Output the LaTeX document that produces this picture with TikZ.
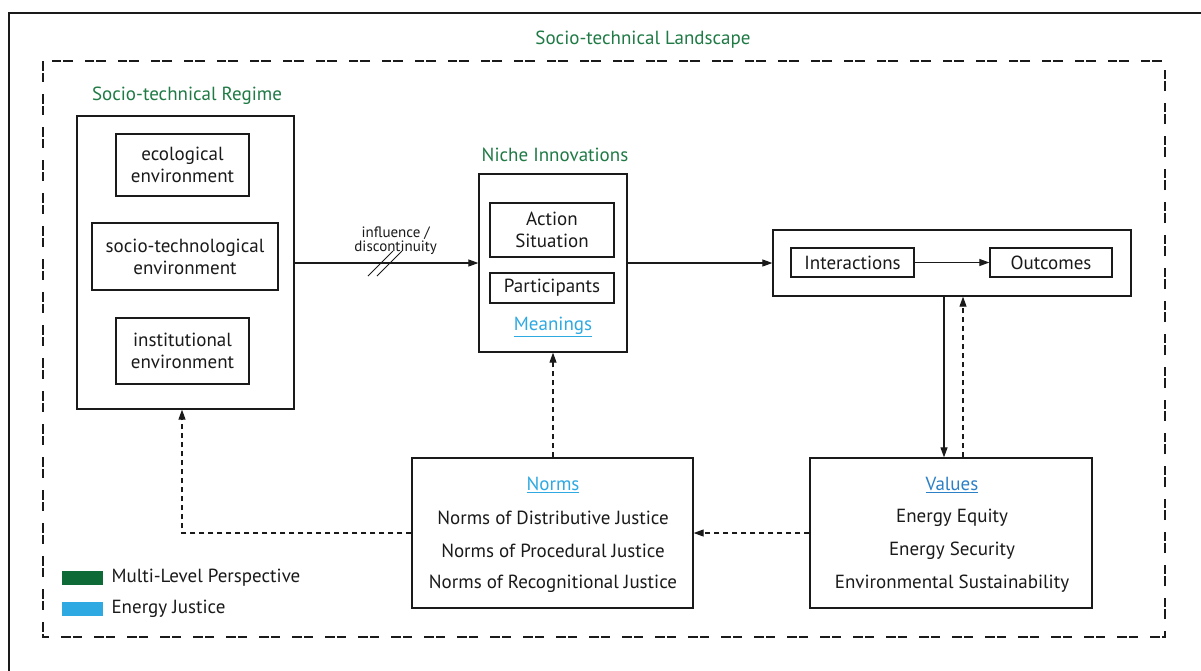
\documentclass[tikz,border=0pt]{standalone}
\usepackage{fontspec}
\setmainfont{PT Sans}
\usetikzlibrary{arrows.meta,positioning,calc}
\definecolor{mlpgreen}{HTML}{0E6B38}
\definecolor{mlptext}{HTML}{1F7A45}
\definecolor{ejblue}{HTML}{2EA9E1}
\definecolor{ejdark}{HTML}{2C80C6}
\definecolor{ink}{HTML}{1A1A1A}
\tikzset{
  box/.style={draw=ink, line width=1.3pt, inner sep=0pt},
  label/.style={text=ink, font=\fontsize{19}{22}\selectfont, align=center},
  head/.style={text=mlptext, font=\fontsize{19}{22}\selectfont},
  flow/.style={draw=ink, line width=1.1pt, -{Triangle[length=10pt,width=7pt]}},
  feedback/.style={flow, dash pattern=on 5pt off 4pt},
  landscape/.style={draw=ink, line width=1.5pt, dash pattern=on 10pt off 2pt on 9pt off 12pt},
  ejlink/.style={font=\fontsize{19}{22}\selectfont}
}
\newcommand{\ulink}[2]{\textcolor{#1}{\underline{#2}}}
\begin{document}
\begin{tikzpicture}[x=1pt,y=-1pt]
\useasboundingbox (0,0) rectangle (1201,670);
\fill[white] (0,0) rectangle (1201,670);
% outer frame and landscape boundary
\draw[ink, line width=1.8pt] (1215,13) -- (9,13) -- (9,685);
\draw[landscape] (43,61) rectangle (1165,637);
\node[head] (landscapeT) at (643,40) {Socio-technical Landscape};

% regime
\node[head] (regimeT) at (187,96) {Socio-technical Regime};
\node[box, minimum width=217pt, minimum height=293pt] (regime) at (185.5,262.5) {};
\node[box, label, minimum width=133pt, minimum height=62pt] (eco) at (182.5,165) {ecological\\environment};
\node[box, label, minimum width=186pt, minimum height=67pt] (soc) at (185,256.5) {socio-technological\\environment};
\node[box, label, minimum width=133pt, minimum height=66pt] (inst) at (182.5,351) {institutional\\environment};

% niche
\node[head] (nicheT) at (555,155) {Niche Innovations};
\node[box, minimum width=148pt, minimum height=178pt] (niche) at (553,263) {};
\node[box, label, minimum width=124pt, minimum height=54pt] (action) at (552,230) {Action\\Situation};
\node[box, label, minimum width=124pt, minimum height=30pt] (part) at (552,288) {Participants};
\node[ejlink] (mean) at (553,327) {\ulink{ejblue}{Meanings}};

% interactions / outcomes
\node[box, minimum width=358pt, minimum height=66pt] (io) at (952,263) {};
\node[box, label, minimum width=123pt, minimum height=29pt] (inter) at (852.5,262.5) {Interactions};
\node[box, label, minimum width=122pt, minimum height=29pt] (out) at (1051,262.5) {Outcomes};

% norms and values
\node[box, minimum width=281pt, minimum height=150pt] (norms) at (552.5,533) {};
\node[ejlink] (normsT) at (553,485) {\ulink{ejblue}{Norms}};
\node[label] (n1) at (553,518) {Norms of Distributive Justice};
\node[label] (n2) at (553,551) {Norms of Procedural Justice};
\node[label] (n3) at (553,584) {Norms of Recognitional Justice};

\node[box, minimum width=282pt, minimum height=150pt] (values) at (951,533) {};
\node[ejlink] (valuesT) at (952,485) {\ulink{ejdark}{Values}};
\node[label] (v1) at (952,518) {Energy Equity};
\node[label] (v2) at (952,551) {Energy Security};
\node[label] (v3) at (952,584) {Environmental Sustainability};

% connectors
\draw[flow] (regime.east |- 0,263) -- (niche.west |- 0,263)
  node[pos=0.55, above=7pt, text=ink, font=\fontsize{15}{15}\selectfont, align=center, inner sep=1pt] (infl) {influence /\\[-1pt]discontinuity};
\coordinate (brk) at (385,263);
\draw[ink, line width=1pt] ($(brk)+(-17,13)$) -- ($(brk)+(8,-12)$);
\draw[ink, line width=1pt] ($(brk)+(-8,13)$) -- ($(brk)+(17,-12)$);
\draw[flow] (niche.east |- 0,263) -- (io.west |- 0,263);
\draw[flow] (inter) -- (out);
\draw[flow] (io.south -| 944,0) -- (values.north -| 944,0);
\draw[feedback] (values.north -| 963,0) -- (io.south -| 963,0);
\draw[feedback] (values.west) -- (norms.east);
\draw[feedback] (norms.north -| mean) -- (niche.south -| mean);
\draw[feedback] (norms.west) -| (regime.south -| 182,0);

% legend
\node[fill=mlpgreen, minimum width=41pt, minimum height=14pt, inner sep=0pt] (lg1) at (82.5,578) {};
\node[label, anchor=west] (lt1) at (108,578) {Multi-Level Perspective};
\node[fill=ejblue, minimum width=41pt, minimum height=14pt, inner sep=0pt] (lg2) at (82.5,609) {};
\node[label, anchor=west] (lt2) at (108,609) {Energy Justice};
\end{tikzpicture}
\end{document}
